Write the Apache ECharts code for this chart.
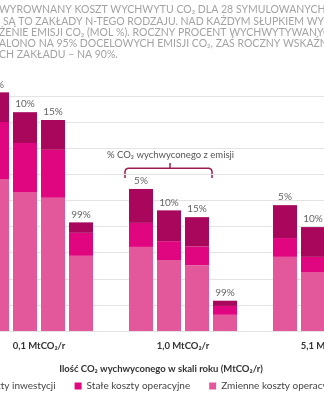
<!DOCTYPE html>
<html>
<head>
<meta charset="utf-8">
<script src="https://cdn.jsdelivr.net/npm/echarts@6/dist/echarts.min.js"></script>
<style>
html,body{margin:0;padding:0;background:#fff;}
#c{width:324px;height:400px;overflow:hidden;}
</style>
</head>
<body>
<div id="c"></div>
<script>
// ---- data ----
const categories = ['0,1 MtCO₂/r', '1,0 MtCO₂/r', '5,1 MtCO₂/r'];
const captureLabels = ['5%', '10%', '15%', '99%'];
// values per capture level (rows) across the categories (columns)
const variableOpex = [[291, 161, 142], [266, 136, 113], [255, 126, 108], [144, 31, 25]];
const fixedOpex    = [[109, 46, 36],   [94, 36, 29],    [92, 36, 28],    [44, 17, 10]];
const capex        = [[57, 65, 63],    [59, 59, 57],    [57, 56, 55],    [20, 10, 8]];
const seriesNames = ['Koszty inwestycji', 'Stałe koszty operacyjne', 'Zmienne koszty operacyjne'];
const titleLines = [
  'WYROWNANY KOSZT WYCHWYTU CO₂ DLA 28 SYMULOWANYCH Z',
  'SĄ TO ZAKŁADY N-TEGO RODZAJU. NAD KAŻDYM SŁUPKIEM WYK',
  'ŻENIE EMISJI CO₂ (MOL %). ROCZNY PROCENT WYCHWYTYWANYC',
  'ALONO NA 95% DOCELOWYCH EMISJI CO₂, ZAŚ ROCZNY WSKAŹN',
  'CH ZAKŁADU – NA 90%.'
];
const annotationText = '% CO₂ wychwyconego z emisji';
const axisTitle = 'Ilość CO₂ wychwyconego w skali roku (MtCO₂/r)';

// ---- styles ----
const colPink = '#e2589a', colMag = '#e0067f', colDark = '#a8075c';
const FONT = 'Lato, "Open Sans", sans-serif';

const series = [];
captureLabels.forEach((lab, i) => {
  const stack = 's' + i;
  series.push({type: 'bar', name: seriesNames[2], stack, data: variableOpex[i], barWidth: 24, barGap: '16.7%', clip: false, itemStyle: {color: colPink}});
  series.push({type: 'bar', name: seriesNames[1], stack, data: fixedOpex[i], barWidth: 24, barGap: '16.7%', clip: false, itemStyle: {color: colMag}});
  series.push({type: 'bar', name: seriesNames[0], stack, data: capex[i], barWidth: 24, barGap: '16.7%', clip: false, itemStyle: {color: colDark},
    label: {show: true, position: 'top', distance: 3, formatter: lab, color: '#666', fontSize: 10, fontFamily: FONT}});
});

// legend left: place 'Stałe' marker at x=70
const mctx = document.createElement('canvas').getContext('2d');
mctx.font = '10px ' + FONT;
const w1 = mctx.measureText(seriesNames[0]).width;
const legendLeft = Math.round(70 - 19 - w1 - 5 - 7);

const chart = echarts.init(document.getElementById('c'), null, {renderer: 'canvas'});
const titleGraphics = titleLines.map((t, i) => ({
  type: 'text', x: i === 1 ? 3 : -1, y: 10 + i * 11.2,
  style: {text: t, fill: '#a3a3a3', fontSize: 10.5, fontFamily: FONT, verticalAlign: 'middle'}
}));
const axisTitleGraphic = {type: 'text', x: 161, y: 369, style: {text: axisTitle, fill: '#333', fontSize: 9.5, fontWeight: 'bold', fontFamily: FONT, align: 'center', verticalAlign: 'middle'}};

chart.setOption({
  animation: false,
  backgroundColor: '#fff',
  grid: {left: -33, top: 96, width: 432, bottom: 69, outerBoundsMode: 'none', containLabel: false},
  xAxis: {
    type: 'category', data: categories,
    axisTick: {show: false},
    axisLine: {lineStyle: {color: '#e3e3e3'}},
    axisLabel: {margin: 10, color: '#333', fontWeight: 'bold', fontSize: 9.5, fontFamily: FONT}
  },
  yAxis: {
    type: 'value', min: 0, max: 450, interval: 50,
    axisLabel: {show: false}, axisLine: {show: false}, axisTick: {show: false},
    splitLine: {lineStyle: {color: '#e3e3e3', width: 1}}
  },
  legend: {
    data: seriesNames, bottom: 4, left: legendLeft, width: 700, itemGap: 19,
    itemWidth: 7, itemHeight: 7, icon: 'rect',
    textStyle: {color: '#444', fontSize: 10, fontFamily: FONT}
  },
  series: series,
  graphic: titleGraphics.concat([axisTitleGraphic])
});

// annotation bracket above the first three bars of the second group
const cx2 = chart.convertToPixel({xAxisIndex: 0}, 1);
const l = cx2 - 58, r = cx2 + 29, m = cx2 - 13;
chart.setOption({
  graphic: titleGraphics.concat([
    axisTitleGraphic,
    {type: 'text', x: l - 18, y: 155, style: {text: annotationText, fill: '#555', fontSize: 9.5, fontFamily: FONT, verticalAlign: 'middle'}},
    {type: 'polyline', shape: {points: [[l, 178], [l, 171.5], [l + 0.8, 169.3], [l + 3, 168.3], [r - 3, 168.3], [r - 0.8, 169.3], [r, 171.5], [r, 178]]},
      style: {stroke: '#9e1b50', lineWidth: 1.5, fill: null}},
    {type: 'line', shape: {x1: m, y1: 168.3, x2: m, y2: 163}, style: {stroke: '#9e1b50', lineWidth: 1.5}}
  ])
});
</script>
</body>
</html>
